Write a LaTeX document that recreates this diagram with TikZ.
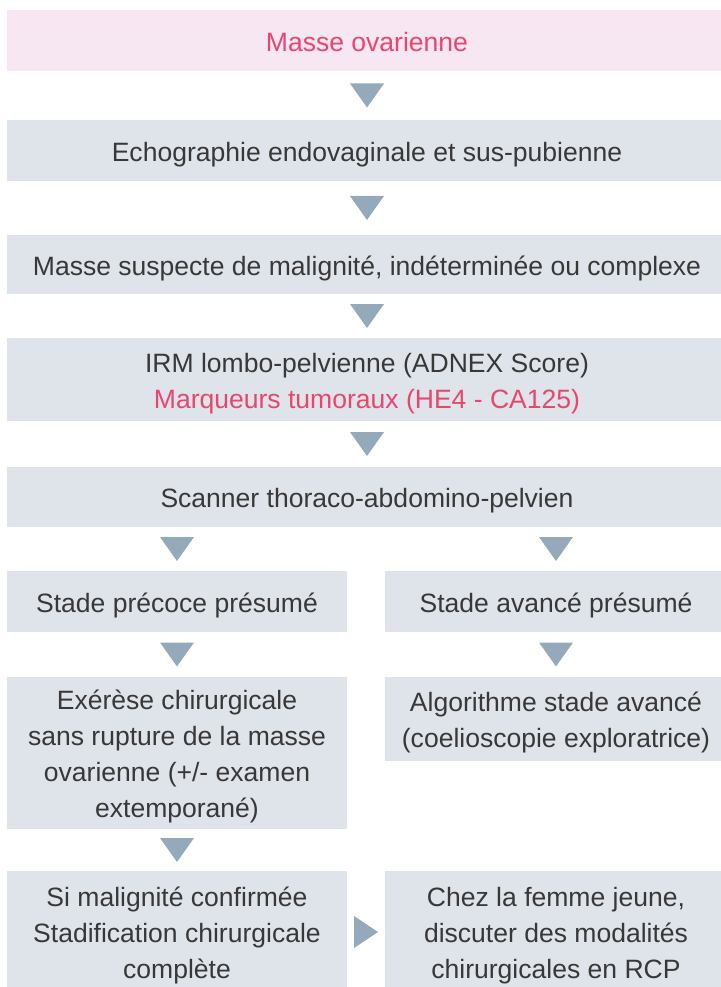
\documentclass[tikz,border=0pt]{standalone}
\usepackage{fontspec}
\setmainfont{Liberation Sans}
\usetikzlibrary{calc}
\definecolor{boxgrey}{HTML}{DFE3EA}
\definecolor{boxpink}{HTML}{F7E7F2}
\definecolor{textpink}{HTML}{E9456F}
\definecolor{textgrey}{HTML}{383838}
\definecolor{tipgrey}{HTML}{94A9BA}
% struts so that the text sits a little low in its box
\newcommand{\toprule}{\rule{0pt}{22pt}}
\newcommand{\botrule}{\rule[-5.6pt]{0pt}{0pt}}
\begin{document}
\begin{tikzpicture}
  [x=0.75pt,y=-0.75pt,
   every node/.style={rectangle,fill=boxgrey,text=textgrey,align=center,inner sep=0pt,
     font=\fontsize{19.9pt}{27pt}\selectfont},
   wide/.style={minimum width=540pt},
   half/.style={minimum width=255pt},
   tip/.style={fill=tipgrey}]
  \useasboundingbox (0,0) rectangle (720,987);
  \node[wide,minimum height=45.75pt,fill=boxpink,text=textpink] (m1) at (367,40.5) {\toprule Masse ovarienne\botrule};
  \node[wide,minimum height=45.75pt] (m2) at (367,150.5) {\toprule Echographie endovaginale et sus-pubienne\botrule};
  \node[wide,minimum height=44.25pt] (m3) at (367,264.5) {\toprule Masse suspecte de malignité, indéterminée ou complexe\botrule};
  \node[wide,minimum height=62.25pt] (m4) at (367,379.5) {\toprule IRM lombo-pelvienne (ADNEX Score)\\ \textcolor{textpink}{Marqueurs tumoraux (HE4 - CA125)}\botrule};
  \node[wide,minimum height=45pt] (m5) at (367,497) {\toprule Scanner thoraco-abdomino-pelvien\botrule};
  \node[half,minimum height=45.75pt] (l1) at (177,601.5) {\toprule Stade précoce présumé\botrule};
  \node[half,minimum width=256.5pt,minimum height=45.75pt] (r1) at (556,601.5) {\toprule Stade avancé présumé\botrule};
  \node[half,minimum height=114pt] (l2) at (177,753) {\toprule Exérèse chirurgicale\\ sans rupture de la masse\\ ovarienne (+/- examen\\ extemporané)\botrule};
  \node[half,minimum width=256.5pt,minimum height=63pt] (r2) at (556,719) {\toprule Algorithme stade avancé\\ (coelioscopie exploratrice)\botrule};
  \node[half,minimum height=91.5pt] (l3) at (177,932) {\toprule Si malignité confirmée\\ Stadification chirurgicale\\ complète\botrule};
  \node[half,minimum width=256.5pt,minimum height=91.5pt] (r3) at (556,932) {\toprule Chez la femme jeune,\\ discuter des modalités\\ chirurgicales en RCP\botrule};
  \foreach \from/\to in {m1/m2,m2/m3,m3/m4,m4/m5,m5/l1,m5/r1,l1/l2,r1/r2,l2/l3}
  {
    \coordinate (mid) at ($(\from.south)!.5!(\to.north)$);
    \fill[tip] (mid -| \to.north) +(-17,-12) -- +(17,-12) -- +(0,12) -- cycle;
  }
  \coordinate (mid) at ($(l3.east)!.5!(r3.west)$);
  \fill[tip] (mid) +(-12,-16) -- +(-12,16) -- +(12,0) -- cycle;
\end{tikzpicture}
\end{document}
